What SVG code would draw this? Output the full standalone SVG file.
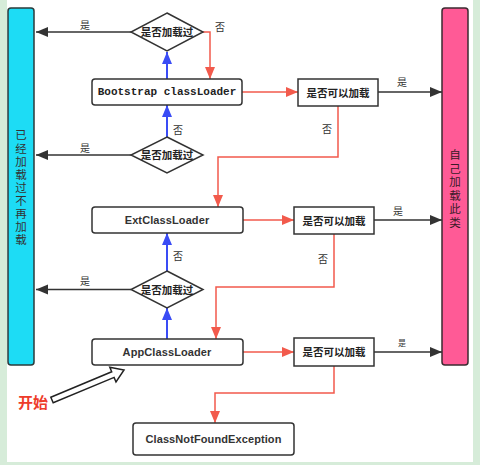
<svg xmlns="http://www.w3.org/2000/svg" width="480" height="465" viewBox="0 0 480 465">
<style>
.box{fill:#fff;stroke:#333;stroke-width:1.5}
.dia{fill:#fff;stroke:#333;stroke-width:1.5}
.cn{font-family:"Liberation Sans","Noto Sans CJK SC",sans-serif;font-size:10.5px;font-weight:bold;fill:#222;text-anchor:middle;dominant-baseline:central}
.lbl{font-family:"Liberation Sans","Noto Sans CJK SC",sans-serif;font-size:10px;fill:#333;text-anchor:middle;dominant-baseline:central}
.en{font-family:"Liberation Sans",sans-serif;font-size:11px;font-weight:bold;fill:#333;text-anchor:middle;dominant-baseline:central;letter-spacing:0.1px}
.mono{font-family:"Liberation Mono",monospace;font-size:11px;font-weight:bold;fill:#222;text-anchor:middle;dominant-baseline:central}
.vt{font-family:"Liberation Sans","Noto Sans CJK SC",sans-serif;font-size:11.5px;text-anchor:middle;dominant-baseline:central}
.blk{fill:none;stroke:#333;stroke-width:1.5}
.red{fill:none;stroke:#f25a4c;stroke-width:1.5}
.blu{fill:none;stroke:#3a4cf5;stroke-width:2}
</style>
<defs>
<marker id="ab" markerUnits="userSpaceOnUse" markerWidth="14" markerHeight="12" refX="12" refY="5" orient="auto"><path d="M0,0 L12,5 L0,10 Z" fill="#333"/></marker>
<marker id="ar" markerUnits="userSpaceOnUse" markerWidth="14" markerHeight="12" refX="12" refY="5" orient="auto"><path d="M0,0 L12,5 L0,10 Z" fill="#f25a4c"/></marker>
<marker id="au" markerUnits="userSpaceOnUse" markerWidth="14" markerHeight="12" refX="12" refY="5" orient="auto"><path d="M0,0 L12,5 L0,10 Z" fill="#3a4cf5"/></marker>
</defs>
<rect x="0" y="0" width="480" height="465" fill="#d6ecd9"/>
<rect x="7" y="0" width="466" height="462" fill="#fff"/>

<g id="loaded-bar">
<rect x="8" y="8" width="26" height="357" rx="3" fill="#1ddcf5" stroke="#2b3b3b" stroke-width="1.5"/>
<g class="vt" fill="#333">
<text x="21" y="135">已</text><text x="21" y="148.5">经</text><text x="21" y="162">加</text><text x="21" y="175">载</text><text x="21" y="188">过</text><text x="21" y="201">不</text><text x="21" y="214">再</text><text x="21" y="227">加</text><text x="21" y="240">载</text>
</g>
</g>
<g id="self-bar">
<rect x="442" y="8" width="26" height="357" rx="3" fill="#ff5a96" stroke="#3b2b30" stroke-width="1.5"/>
<g class="vt" fill="#3a1a28">
<text x="455" y="155">自</text><text x="455" y="168.5">己</text><text x="455" y="182">加</text><text x="455" y="195.5">载</text><text x="455" y="209">此</text><text x="455" y="222.5">类</text>
</g>
</g>

<g id="connectors">
<path class="blk" d="M131,32 H36" marker-end="url(#ab)"/>
<path class="blk" d="M131,155 H36" marker-end="url(#ab)"/>
<path class="blk" d="M131,289.5 H36" marker-end="url(#ab)"/>
<path class="blk" d="M378,92 H442" marker-end="url(#ab)"/>
<path class="blk" d="M374,220 H442" marker-end="url(#ab)"/>
<path class="blk" d="M374,352 H442" marker-end="url(#ab)"/>
<path class="blu" d="M167,79 V52" marker-end="url(#au)"/>
<path class="blu" d="M167,137 V105" marker-end="url(#au)"/>
<path class="blu" d="M167,271 V233" marker-end="url(#au)"/>
<path class="blu" d="M167,339 V308" marker-end="url(#au)"/>
<path class="red" d="M203,32 H210 V79" marker-end="url(#ar)"/>
<path class="red" d="M242,92 H298" marker-end="url(#ar)"/>
<path class="red" d="M338,106 V157 H218 V207" marker-end="url(#ar)"/>
<path class="red" d="M243,220 H294" marker-end="url(#ar)"/>
<path class="red" d="M334,234 V287 H216 V339" marker-end="url(#ar)"/>
<path class="red" d="M243,352 H294" marker-end="url(#ar)"/>
<path class="red" d="M334,366 V393 H215 V423" marker-end="url(#ar)"/>
<g class="lbl">
<text x="85" y="25">是</text>
<text x="220" y="27">否</text>
<text x="402" y="82">是</text>
<text x="327" y="129">否</text>
<text x="178" y="130">否</text>
<text x="85" y="148">是</text>
<text x="398" y="211">是</text>
<text x="323" y="259">否</text>
<text x="178" y="256">否</text>
<text x="85" y="281">是</text>
<text x="402" y="343" style="font-size:8px">是</text>
</g>
</g>

<g id="d1"><polygon class="dia" points="167,13 203,32 167,51 131,32"/><text class="cn" x="167" y="32">是否加载过</text></g>
<g id="d2"><polygon class="dia" points="167,137 203,155 167,173 131,155"/><text class="cn" x="167" y="155">是否加载过</text></g>
<g id="d3"><polygon class="dia" points="167,271 203,289.5 167,308 131,289.5"/><text class="cn" x="167" y="289.5">是否加载过</text></g>

<g id="bootstrap"><rect class="box" x="92" y="79" width="150" height="26" rx="3"/><text class="mono" x="167" y="92">Bootstrap classLoader</text></g>
<g id="ext"><rect class="box" x="92" y="207" width="151" height="26" rx="3"/><text class="en" x="167" y="220">ExtClassLoader</text></g>
<g id="app"><rect class="box" x="92" y="339" width="151" height="26" rx="3"/><text class="en" x="167" y="352">AppClassLoader</text></g>
<g id="cnf"><rect class="box" x="133" y="423" width="161" height="32" rx="3"/><text class="en" x="213.5" y="439">ClassNotFoundException</text></g>

<g id="can1"><rect class="box" x="298" y="79" width="80" height="27"/><text class="cn" x="338" y="92.5">是否可以加载</text></g>
<g id="can2"><rect class="box" x="294" y="207" width="80" height="27"/><text class="cn" x="334" y="220.5">是否可以加载</text></g>
<g id="can3"><rect class="box" x="294" y="338" width="80" height="28"/><text class="cn" x="334" y="352">是否可以加载</text></g>

<g id="start">
<polygon points="50.8,397.2 111.7,371.8 109.8,367.2 124,370 116,382 114.1,377.4 53.2,402.8" fill="#fff" stroke="#222" stroke-width="1.5" stroke-linejoin="miter"/>
<text x="33" y="402" style="font-family:'Liberation Sans','Noto Sans CJK SC',sans-serif;font-size:15px;font-weight:bold;fill:#ee3b2a;text-anchor:middle;dominant-baseline:central">开始</text>
</g>
</svg>
